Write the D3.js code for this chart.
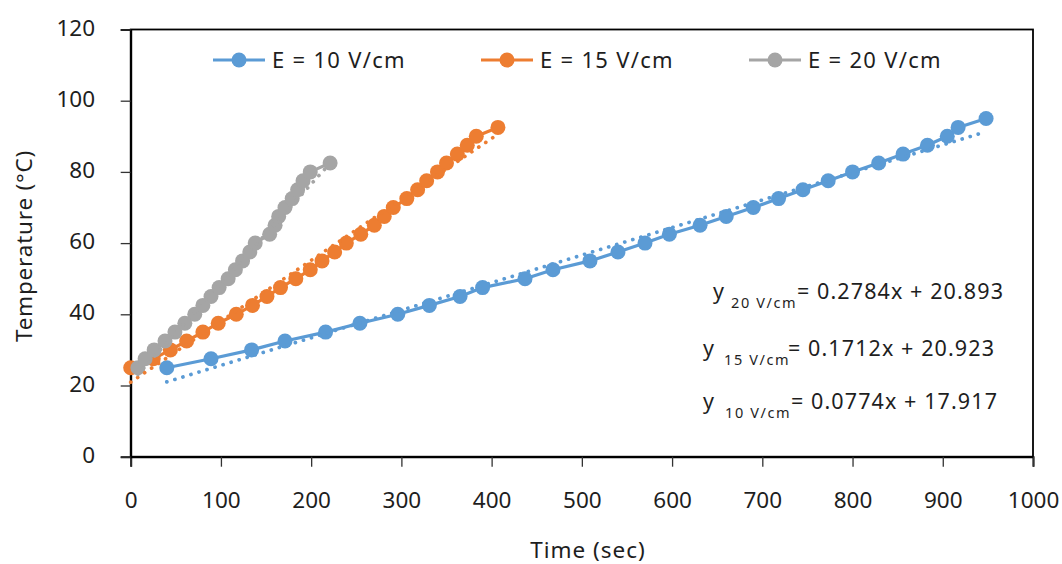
<!DOCTYPE html>
<html>
<head>
<meta charset="utf-8">
<script src="https://cdn.jsdelivr.net/npm/d3@7"></script>
<style>
  html, body { margin: 0; padding: 0; background: #fff; }
  svg { display: block; font-family: "Noto Sans", sans-serif; }
</style>
</head>
<body>
<svg id="chart" width="1062" height="564"></svg>
<script>
// Heating curves: temperature vs. time at three field strengths
const seriesNames = ["E = 10 V/cm", "E = 15 V/cm", "E = 20 V/cm"];
const seriesColors = ["#5B9BD5", "#ED7D31", "#A5A5A5"];

const time10 = [40, 89, 134, 171, 216, 254, 296, 331, 365, 390, 437, 468, 509, 540, 570, 597, 631, 660, 690, 718, 745, 773, 800, 829, 856, 883, 905, 917, 948];
const temp10 = [25, 27.5, 30, 32.5, 35, 37.5, 40, 42.5, 45, 47.5, 50, 52.5, 55, 57.5, 60, 62.5, 65, 67.5, 70, 72.5, 75, 77.5, 80, 82.5, 85, 87.5, 90, 92.5, 95];

const time15 = [0, 25, 44, 62, 80, 97, 117, 135, 151, 166, 183, 199, 212, 226, 239, 255, 270, 281, 291, 306, 318, 328, 340, 350, 362, 373, 383, 407];
const temp15 = [25, 27.5, 30, 32.5, 35, 37.5, 40, 42.5, 45, 47.5, 50, 52.5, 55, 57.5, 60, 62.5, 65, 67.5, 70, 72.5, 75, 77.5, 80, 82.5, 85, 87.5, 90, 92.5];

const time20 = [8, 16, 26, 38, 49, 60, 71, 80, 89, 98, 108, 116, 124, 132, 138, 154, 160, 164, 171, 179, 185, 191, 199, 221];
const temp20 = [25, 27.5, 30, 32.5, 35, 37.5, 40, 42.5, 45, 47.5, 50, 52.5, 55, 57.5, 60, 62.5, 65, 67.5, 70, 72.5, 75, 77.5, 80, 82.5];

// Linear fits (slope, intercept) and their labels
const fitSlopes = [0.0774, 0.1712, 0.2784];
const fitIntercepts = [17.917, 20.923, 20.893];
const fitSubscripts = ["10 V/cm", "15 V/cm", "20 V/cm"];
const fitEquations = ["= 0.0774x + 17.917", "= 0.1712x + 20.923", "= 0.2784x + 20.893"];

const xTicks = [0, 100, 200, 300, 400, 500, 600, 700, 800, 900, 1000];
const yTicks = [0, 20, 40, 60, 80, 100, 120];

const series = [
  { time: time10, temp: temp10 },
  { time: time15, temp: temp15 },
  { time: time20, temp: temp20 }
];

const svg = d3.select("#chart");
const plotL = 130.7, plotR = 1033, plotT = 29.5, plotB = 456.7;
const textColor = "#1e1e1e";

const x = d3.scaleLinear().domain([0, 1000]).range([plotL, plotR]);
const y = d3.scaleLinear().domain([0, 120]).range([plotB, plotT]);

// plot-area frame
svg.append("rect")
  .attr("x", plotL).attr("y", plotT)
  .attr("width", plotR - plotL).attr("height", plotB - plotT)
  .attr("fill", "none").attr("stroke", "#000").attr("stroke-width", 1.8);

// axes
const xAxis = svg.append("g").attr("transform", `translate(0,${plotB})`)
  .call(d3.axisBottom(x).tickValues(xTicks).tickSize(10).tickFormat(d3.format("d")));
const yAxis = svg.append("g").attr("transform", `translate(${plotL},0)`)
  .call(d3.axisLeft(y).tickValues(yTicks).tickSize(10).tickFormat(d3.format("d")));

[xAxis, yAxis].forEach(g => {
  g.select(".domain").attr("stroke", "#000").attr("stroke-width", 2);
  g.selectAll(".tick line").attr("stroke", "#333").attr("stroke-width", 1.3);
  g.selectAll(".tick text")
    .attr("font-family", "Noto Sans").attr("font-size", 22.5).attr("fill", textColor)
    .attr("dy", null);
});
xAxis.selectAll(".tick text").attr("y", 51.3);
yAxis.selectAll(".tick text").attr("x", -35.7).attr("y", 5.6);

// axis titles
svg.append("text")
  .attr("x", 588).attr("y", 558)
  .attr("text-anchor", "middle").attr("font-size", 22.5).attr("letter-spacing", 1)
  .attr("fill", textColor)
  .text("Time (sec)");
svg.append("text")
  .attr("transform", "translate(32,246) rotate(-90)")
  .attr("text-anchor", "middle").attr("font-size", 22.5).attr("letter-spacing", 0.8)
  .attr("fill", textColor)
  .text("Temperature (°C)");

// data lines and markers
const line = d3.line().x(d => x(d[0])).y(d => y(d[1]));
series.forEach((s, i) => {
  const pts = s.time.map((t, k) => [t, s.temp[k]]);
  const g = svg.append("g");
  g.append("path").datum(pts)
    .attr("d", line)
    .attr("fill", "none").attr("stroke", seriesColors[i])
    .attr("stroke-width", 3.2).attr("stroke-linejoin", "round");
  g.selectAll("circle").data(pts).join("circle")
    .attr("cx", d => x(d[0])).attr("cy", d => y(d[1]))
    .attr("r", 7.5).attr("fill", seriesColors[i]);
});

// dotted linear trendlines over each series' time range
series.forEach((s, i) => {
  const t0 = d3.min(s.time), t1 = d3.max(s.time);
  const pts = [[t0, fitSlopes[i] * t0 + fitIntercepts[i]], [t1, fitSlopes[i] * t1 + fitIntercepts[i]]];
  svg.append("path").datum(pts)
    .attr("d", line)
    .attr("fill", "none").attr("stroke", seriesColors[i])
    .attr("stroke-width", 3.7).attr("stroke-linecap", "round")
    .attr("stroke-dasharray", "0.1 8.3");
});

// legend
const legend = svg.append("g");
seriesNames.forEach((name, i) => {
  const x0 = 213 + i * 268;
  legend.append("line")
    .attr("x1", x0).attr("x2", x0 + 52).attr("y1", 60).attr("y2", 60)
    .attr("stroke", seriesColors[i]).attr("stroke-width", 3.2);
  legend.append("circle")
    .attr("cx", x0 + 26).attr("cy", 60).attr("r", 7.5).attr("fill", seriesColors[i]);
  legend.append("text")
    .attr("x", x0 + 59).attr("y", 68)
    .attr("font-size", 22).attr("letter-spacing", 1.3).attr("fill", textColor)
    .text(name);
});

// fit equations, listed from steepest to shallowest
const eqRows = [
  { i: 2, yx: 713, subx: 731, eqx: 797, base: 299 },
  { i: 1, yx: 703, subx: 724, eqx: 788, base: 356 },
  { i: 0, yx: 703, subx: 725, eqx: 791, base: 409 }
];
eqRows.forEach(r => {
  const t = svg.append("text").attr("y", r.base).attr("fill", textColor).attr("font-size", 21.5);
  t.append("tspan").attr("x", r.yx).text("y");
  t.append("tspan").attr("x", r.subx).attr("y", r.base + 9)
    .attr("font-size", 14.5).attr("letter-spacing", 1.6).text(fitSubscripts[r.i]);
  t.append("tspan").attr("x", r.eqx).attr("y", r.base)
    .attr("letter-spacing", 1.1).text(fitEquations[r.i]);
});
</script>
</body>
</html>
